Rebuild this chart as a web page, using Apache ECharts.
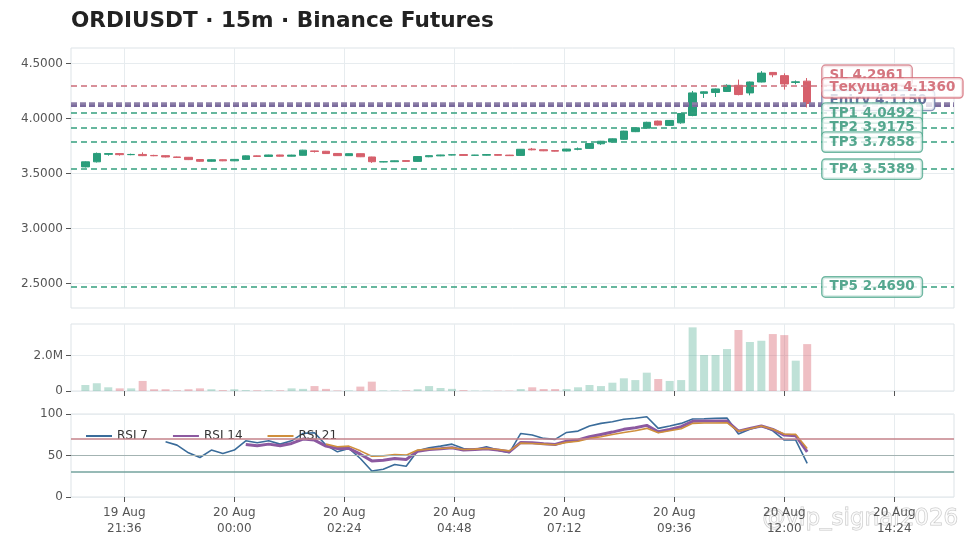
<!DOCTYPE html>
<html>
<head>
<meta charset="utf-8">
<title>ORDIUSDT 15m</title>
<script src="https://cdn.jsdelivr.net/npm/echarts@6/dist/echarts.min.js"></script>
<style>
  html, body { margin: 0; padding: 0; background: #fff; }
  #chart { width: 971px; height: 548px; }
</style>
</head>
<body>
<div id="chart"></div>
<script>
// 15m bars, x in minutes counted from 19 Aug 00:00 (first bar 19 Aug 20:45)
var firstBar = 1245;
var barStep = 15;

var opens  = [3.560,3.606,3.674,3.681,3.671,3.673,3.664,3.662,3.650,3.647,3.627,3.611,3.625,3.615,3.628,3.660,
              3.655,3.668,3.657,3.665,3.705,3.702,3.682,3.662,3.680,3.650,3.605,3.607,3.617,3.610,3.652,3.660,
              3.668,3.672,3.665,3.666,3.672,3.667,3.664,3.722,3.716,3.708,3.704,3.720,3.728,3.770,3.786,3.810,
              3.880,3.912,3.976,3.937,3.960,4.027,4.228,4.236,4.245,4.301,4.232,4.331,4.418,4.389,4.327,4.339];
var closes = [3.606,3.682,3.681,3.671,3.673,3.662,3.661,3.650,3.646,3.626,3.611,3.625,3.615,3.628,3.660,3.655,
              3.668,3.657,3.667,3.712,3.700,3.681,3.662,3.680,3.652,3.607,3.607,3.615,3.610,3.654,3.662,3.668,
              3.670,3.664,3.667,3.672,3.665,3.662,3.720,3.715,3.706,3.703,3.722,3.724,3.772,3.793,3.815,3.885,
              3.915,3.965,3.940,3.982,4.045,4.232,4.242,4.268,4.301,4.217,4.331,4.412,4.397,4.313,4.333,4.136];
var lows   = [3.555,3.600,3.662,3.662,3.666,3.658,3.657,3.646,3.642,3.622,3.606,3.608,3.612,3.612,3.625,3.652,
              3.652,3.654,3.655,3.663,3.690,3.678,3.659,3.659,3.649,3.596,3.602,3.604,3.607,3.607,3.648,3.657,
              3.665,3.661,3.662,3.663,3.662,3.659,3.661,3.710,3.703,3.700,3.701,3.711,3.725,3.760,3.783,3.806,
              3.876,3.908,3.935,3.932,3.952,4.020,4.186,4.195,4.240,4.210,4.210,4.328,4.374,4.262,4.310,4.100];
var highs  = [3.610,3.690,3.686,3.684,3.680,3.692,3.670,3.666,3.653,3.650,3.630,3.628,3.628,3.630,3.663,3.663,
              3.670,3.670,3.670,3.715,3.708,3.705,3.684,3.682,3.682,3.652,3.609,3.617,3.619,3.656,3.664,3.670,
              3.672,3.674,3.669,3.674,3.674,3.669,3.722,3.732,3.718,3.710,3.724,3.736,3.775,3.796,3.818,3.888,
              3.918,3.970,3.980,3.986,4.048,4.250,4.246,4.272,4.310,4.353,4.335,4.430,4.422,4.410,4.345,4.367];

// volume, millions
var volumes = [0.34,0.44,0.21,0.15,0.15,0.57,0.10,0.10,0.04,0.10,0.15,0.10,0.05,0.10,0.05,0.04,
               0.04,0.04,0.15,0.12,0.28,0.12,0.03,0.03,0.25,0.53,0.03,0.03,0.04,0.10,0.28,0.17,
               0.12,0.05,0.02,0.02,0.02,0.02,0.11,0.21,0.11,0.11,0.11,0.21,0.34,0.28,0.47,0.72,
               0.62,1.04,0.68,0.57,0.62,3.61,2.04,2.04,2.38,3.46,2.78,2.85,3.23,3.17,1.72,2.66];

var rsi7 = [null,null,null,null,null,null,null,
            66.5,62.5,53.2,47.6,56.5,52.5,56.5,67.7,65.3,67.7,63.7,67.7,76.6,77.4,
            62.5,54.4,58.5,46.4,31.4,33.5,39.2,37.1,55.6,59.3,61.3,63.7,58.5,57.3,60.5,56.5,53.2,
            76.6,74.6,70.6,69.4,77.8,79.4,85.5,88.7,90.7,93.6,94.8,96.7,
            82.7,85.5,88.7,93.9,94.3,94.8,95.1,75.8,81.5,85.5,79.8,68.6,68.6,40.4];
var rsi14 = [null,null,null,null,null,null,null,null,null,null,null,null,null,null,
             63.3,61.7,63.7,61.7,64.5,69.8,68.6,
             61.3,58.5,58.5,51.6,43.5,44.3,46.4,45.2,55.2,57.3,58.1,59.3,56.5,57.3,58.1,56.5,54.4,
             65.8,65.3,64.1,63.3,67.3,68.6,72.6,75.4,78.2,81.5,83.5,86.3,
             78.6,81.5,84.7,91.2,91.5,91.5,91.5,79.4,82.7,85.5,81.5,74.6,73.8,54.4];
var rsi21 = [null,null,null,null,null,null,null,null,null,null,null,null,null,null,
             null,null,null,null,null,null,null,
             63.7,60.5,61.3,55.6,49.2,49.6,51.2,50.4,56.5,57.7,58.5,59.3,57.3,57.7,58.5,57.3,55.6,
             64.9,64.5,63.7,62.9,65.8,67.1,70.6,72.6,75.4,77.8,79.8,82.7,
             77.4,79.8,82.3,88.7,89.1,89.1,89.5,79.4,82.3,85.5,81.5,75.8,75.4,58.5];

// trade levels, bottom to top
var levelNames  = ['TP5', 'TP4', 'TP3', 'TP2', 'TP1', 'Entry', 'Текущая', 'SL'];
var levelPrices = [2.4690, 3.5389, 3.7858, 3.9175, 4.0492, 4.1150, 4.1360, 4.2961];
var levelKinds  = ['tp', 'tp', 'tp', 'tp', 'tp', 'entry', 'current', 'sl'];

var priceTicks  = [2.5, 3.0, 3.5, 4.0, 4.5];
var volumeTicks = [0, 2];
var rsiTicks    = [0, 50, 100];
var timeTicks   = [1296, 1440, 1584, 1728, 1872, 2016, 2160, 2304];

var FONT = 'DejaVu Sans';
var UP = '#2a9d7b', DOWN = '#d6606c';
var xMin = 1226.2, xMax = 2382.2;
var labelX = 2210;      // 20 Aug 12:50
var labelGap = 0.1144;  // min spacing between level labels, price units

var kindStyle = {
    tp:      {line: '#35a07f', width: 1.5, dash: [6, 4], text: '#2d9274', border: '#4ea68c'},
    entry:   {line: '#7b6b9d', width: 3,   dash: [6, 3], text: '#3f4f82', border: '#6b7ba6'},
    current: {line: '#8d80a8', width: 2.5, dash: [6, 3], text: '#cc5562', border: '#d56b77'},
    sl:      {line: '#cb6c79', width: 1.5, dash: [6, 4], text: '#c9525f', border: '#d27985'}
};

function fmtTime(v) {
    var day = 19 + Math.floor(v / 1440);
    var m = Math.round(v % 1440);
    var hh = String(Math.floor(m / 60)).padStart(2, '0');
    var mm = String(m % 60).padStart(2, '0');
    return day + ' Aug\n' + hh + ':' + mm;
}

var times = opens.map(function (o, i) { return firstBar + i * barStep; });

var candleData = opens.map(function (o, i) {
    return [times[i], o, closes[i], lows[i], highs[i]];
});
var volumeData = volumes.map(function (v, i) { return [times[i], v]; });
function pair(arr) { return arr.map(function (v, i) { return [times[i], v]; }); }

// level labels pushed apart so they do not stack on one another
var shown = [];
var prev = -Infinity;
levelPrices.forEach(function (p) {
    var s = Math.max(p, prev + labelGap);
    shown.push(s);
    prev = s;
});
var labelOrder = [5, 7, 6, 4, 3, 2, 1, 0];
var labelData = labelOrder.map(function (i) {
    var st = kindStyle[levelKinds[i]];
    return {
        value: [labelX, shown[i]],
        label: {
            formatter: levelNames[i] + ' ' + levelPrices[i].toFixed(4),
            color: st.text,
            borderColor: st.border
        }
    };
});

var levelLines = levelPrices.map(function (p, i) {
    var st = kindStyle[levelKinds[i]];
    return {yAxis: p, lineStyle: {color: st.line, width: st.width, type: st.dash}};
});

var gridBase = {left: 71, width: 883, show: true, borderColor: '#dde3e7', borderWidth: 1};
var axisText = {fontFamily: FONT, fontSize: 12, color: '#555'};
var tickStyle = {color: '#555', width: 1};
var splitStyle = {color: '#e7ecef', width: 1};

function xAxisFor(idx, ticks, labels) {
    return {
        type: 'value', gridIndex: idx, min: xMin, max: xMax,
        axisLine: {show: false},
        axisTick: {show: ticks, customValues: timeTicks, length: 5, lineStyle: tickStyle},
        axisLabel: Object.assign({show: labels, customValues: timeTicks, formatter: fmtTime,
            lineHeight: 16, margin: 8}, axisText),
        splitLine: {show: true, lineStyle: splitStyle}
    };
}

function yAxisFor(idx, min, max, ticks, fmt) {
    return {
        type: 'value', gridIndex: idx, min: min, max: max,
        axisLine: {show: false},
        axisTick: {show: true, customValues: ticks, length: 5, lineStyle: tickStyle},
        axisLabel: Object.assign({customValues: ticks, formatter: fmt, margin: 8}, axisText),
        splitLine: {show: true, lineStyle: splitStyle}
    };
}

var chart = echarts.init(document.getElementById('chart'));
chart.setOption({
    animation: false,
    backgroundColor: '#fff',
    title: {
        text: 'ORDIUSDT · 15m · Binance Futures',
        left: 71, top: 10, padding: 0,
        textStyle: {fontFamily: FONT, fontSize: 21.6, fontWeight: 'bold', color: '#222'}
    },
    legend: {
        data: ['RSI 7', 'RSI 14', 'RSI 21'],
        left: 80, top: 425, itemWidth: 26, itemHeight: 12, itemGap: 24,
        itemStyle: {color: 'rgba(0,0,0,0)', borderColor: 'rgba(0,0,0,0)', borderWidth: 0},
        textStyle: {fontFamily: FONT, fontSize: 12, color: '#333'}
    },
    grid: [
        Object.assign({top: 48, height: 260}, gridBase),
        Object.assign({top: 324, height: 67}, gridBase),
        Object.assign({top: 414, height: 83}, gridBase)
    ],
    xAxis: [xAxisFor(0, false, false), xAxisFor(1, true, false), xAxisFor(2, true, true)],
    yAxis: [
        yAxisFor(0, 2.278, 4.640, priceTicks, function (v) { return v.toFixed(4); }),
        yAxisFor(1, 0, 3.8, volumeTicks, function (v) { return v === 0 ? '0' : v.toFixed(1) + 'M'; }),
        yAxisFor(2, 0, 100, rsiTicks, function (v) { return String(v); })
    ],
    series: [
        {
            type: 'candlestick', name: 'ORDIUSDT',
            xAxisIndex: 0, yAxisIndex: 0,
            dimensions: ['t', 'open', 'close', 'lowest', 'highest'],
            encode: {x: 't', y: ['open', 'close', 'lowest', 'highest']},
            data: candleData,
            barWidth: 8,
            itemStyle: {color: UP, color0: DOWN, borderColor: UP, borderColor0: DOWN, borderWidth: 1},
            markLine: {silent: true, symbol: ['none', 'none'], label: {show: false}, data: levelLines}
        },
        {
            type: 'scatter', name: 'levels',
            xAxisIndex: 0, yAxisIndex: 0,
            symbolSize: 0, silent: true, z: 5,
            data: labelData,
            label: {
                show: true, position: 'right', distance: 0,
                fontFamily: FONT, fontSize: 13.5, fontWeight: 'bold', lineHeight: 15,
                backgroundColor: 'rgba(255,255,255,0.95)', borderWidth: 1.4, borderRadius: 3,
                padding: [2, 7, 2, 7]
            }
        },
        {
            type: 'bar', name: 'Volume',
            xAxisIndex: 1, yAxisIndex: 1,
            data: volumeData, barWidth: 8,
            itemStyle: {
                color: function (p) {
                    return closes[p.dataIndex] >= opens[p.dataIndex]
                        ? 'rgba(42,157,123,0.3)' : 'rgba(214,96,108,0.4)';
                }
            }
        },
        {
            type: 'line', name: 'RSI 7',
            xAxisIndex: 2, yAxisIndex: 2,
            data: pair(rsi7), symbol: 'none',
            lineStyle: {color: '#3a6c9a', width: 1.6}, itemStyle: {color: '#3a6c9a'},
            markLine: {
                silent: true, symbol: ['none', 'none'], label: {show: false},
                data: [
                    {yAxis: 70, lineStyle: {color: '#c4828a', width: 1.5, type: 'solid'}},
                    {yAxis: 50, lineStyle: {color: '#a3b3b2', width: 1.2, type: 'solid'}},
                    {yAxis: 30, lineStyle: {color: '#74a39e', width: 1.5, type: 'solid'}}
                ]
            }
        },
        {
            type: 'line', name: 'RSI 14',
            xAxisIndex: 2, yAxisIndex: 2,
            data: pair(rsi14), symbol: 'none',
            lineStyle: {color: '#8c59a0', width: 3}, itemStyle: {color: '#8c59a0'}
        },
        {
            type: 'line', name: 'RSI 21',
            xAxisIndex: 2, yAxisIndex: 2,
            data: pair(rsi21), symbol: 'none',
            lineStyle: {color: '#cf8f3c', width: 1.6}, itemStyle: {color: '#cf8f3c'}
        }
    ],
    graphic: [{
        type: 'text', left: 762, top: 507, silent: true,
        style: {
            text: '@vip_signal2026', font: '23px "DejaVu Sans"',
            fill: 'rgba(255,255,255,0.6)', stroke: 'rgba(130,130,130,0.45)', lineWidth: 1
        }
    }]
});
window.addEventListener('resize', chart.resize);
</script>
</body>
</html>
